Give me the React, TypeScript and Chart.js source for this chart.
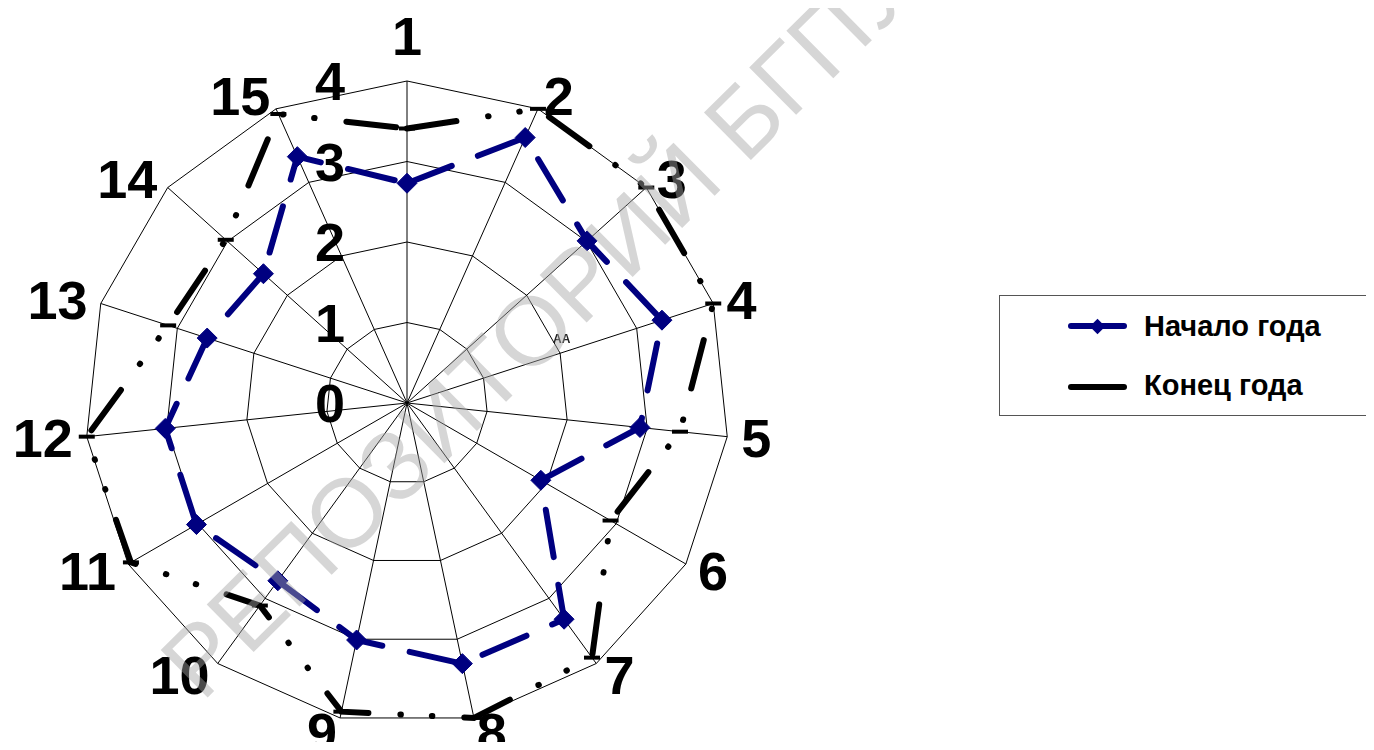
import React, { useEffect, useRef } from 'react';
import { Chart, registerables } from 'chart.js';

Chart.register(...registerables);

const categories = ['1', '2', '3', '4', '5', '6', '7', '8', '9', '10', '11', '12', '13', '14', '15'];
const startValues = [2.73, 3.61, 3.01, 3.33, 2.91, 1.92, 3.32, 3.31, 3.01, 2.73, 3.02, 3.02, 2.61, 2.4, 3.35];
const endValues = [3.41, 4.0, 4.0, 4.0, 3.41, 2.92, 3.91, 4.0, 3.92, 3.11, 3.96, 4.0, 3.12, 3.03, 3.93];
const tickValues = [0, 1, 2, 3, 4];
const seriesNames = ['Начало года', 'Конец года'];
const watermarkText = 'РЕПОЗИТОРИЙ БГПУ';
const artifactText = 'AA';

const BLUE = '#000080';
const FONT = '"Liberation Sans", Arial, sans-serif';

const labelPlugin = {
  id: 'customLabels',
  afterDraw(chart: any) {
    const s = chart.scales.r;
    const ctx = chart.ctx;
    const size = 54;
    const cap = size * 0.716;
    ctx.save();
    ctx.fillStyle = '#000';
    ctx.font = `bold ${size}px ${FONT}`;
    // tick labels
    ctx.textAlign = 'center';
    ctx.textBaseline = 'alphabetic';
    tickValues.forEach((v) => {
      const d = s.getDistanceFromCenterForValue(v);
      ctx.fillText(String(v), s.xCenter - 77, s.yCenter - d + cap / 2);
    });
    // point labels
    categories.forEach((lab, i) => {
      const p = s.getPointPosition(i, s.drawingArea + 14);
      const deg = ((s.getIndexAngle(i) * 180) / Math.PI) % 360;
      if (Math.abs(deg) < 0.5) {
        ctx.textAlign = 'center';
        ctx.textBaseline = 'bottom';
        ctx.fillText(lab, p.x, p.y);
      } else {
        ctx.textAlign = Math.abs(deg - 180) < 0.5 ? 'center' : deg < 180 ? 'left' : 'right';
        ctx.textBaseline = 'alphabetic';
        ctx.fillText(lab, p.x, p.y + cap / 2);
      }
    });
    // small artifact text
    ctx.font = `bold 12px ${FONT}`;
    ctx.textAlign = 'left';
    ctx.textBaseline = 'alphabetic';
    ctx.fillStyle = '#222';
    ctx.fillText(artifactText, s.xCenter + 146, s.yCenter - 60);
    // watermark
    ctx.translate(194, 695);
    ctx.rotate((-44.7 * Math.PI) / 180);
    ctx.font = `97px ${FONT}`;
    ctx.fillStyle = 'rgba(165,165,165,0.45)';
    ctx.textAlign = 'left';
    ctx.textBaseline = 'alphabetic';
    ctx.fillText(watermarkText, 0, 0);
    ctx.restore();
  },
};

export default function App() {
  const ref = useRef<HTMLCanvasElement>(null);
  useEffect(() => {
    if (!ref.current) return;
    const chart = new Chart(ref.current, {
      type: 'radar',
      data: {
        labels: categories,
        datasets: [
          {
            label: seriesNames[0],
            data: startValues,
            borderColor: BLUE,
            backgroundColor: BLUE,
            borderWidth: 6,
            borderDash: [48, 28],
            borderCapStyle: 'round',
            fill: false,
            pointStyle: 'rectRot',
            pointRadius: 10,
            pointBackgroundColor: BLUE,
            pointBorderColor: BLUE,
            pointBorderWidth: 1,
          },
          {
            label: seriesNames[1],
            data: endValues,
            borderColor: '#000',
            backgroundColor: '#000',
            borderWidth: 6,
            borderDash: [50, 32, 0.5, 31, 0.5, 32],
            borderCapStyle: 'round',
            fill: false,
            pointStyle: 'line',
            pointRadius: 8,
            pointBorderColor: '#000',
            pointBorderWidth: 4,
          },
        ],
      } as any,
      options: {
        animation: false,
        responsive: false,
        layout: { padding: { left: 77, top: 73, right: 637, bottom: 17 } },
        plugins: { legend: { display: false }, tooltip: { enabled: false } },
        elements: { line: { tension: 0 } },
        scales: {
          r: {
            min: 0,
            max: 4,
            ticks: { stepSize: 1, display: false },
            pointLabels: { display: false },
            grid: { color: '#000', lineWidth: 1 },
            angleLines: { color: '#000', lineWidth: 1 },
          },
        },
      } as any,
      plugins: [labelPlugin],
    });
    return () => chart.destroy();
  }, []);

  const textStyle: React.CSSProperties = {
    position: 'absolute',
    left: 144,
    font: `bold 29px ${FONT}`,
    lineHeight: '29px',
    whiteSpace: 'nowrap',
    color: '#000',
  };

  return (
    <div style={{ position: 'relative', width: 1366, height: 734, overflow: 'hidden' }}>
      <canvas ref={ref} width={1358} height={734} style={{ position: 'absolute', left: 0, top: 0 }} />
      <div
        style={{
          position: 'absolute',
          left: 991,
          top: 287,
          width: 420,
          height: 119,
          border: '1px solid #555',
          background: '#fff',
        }}
      >
        <div style={{ position: 'absolute', left: 68, top: 27, width: 59, height: 6, borderRadius: 3, background: BLUE }} />
        <div
          style={{
            position: 'absolute',
            left: 92,
            top: 25,
            width: 11,
            height: 11,
            background: BLUE,
            transform: 'rotate(45deg)',
          }}
        />
        <div style={{ ...textStyle, top: 16 }}>{seriesNames[0]}</div>
        <div style={{ position: 'absolute', left: 68, top: 88, width: 59, height: 6, borderRadius: 3, background: '#000' }} />
        <div style={{ ...textStyle, top: 75 }}>{seriesNames[1]}</div>
      </div>
    </div>
  );
}
